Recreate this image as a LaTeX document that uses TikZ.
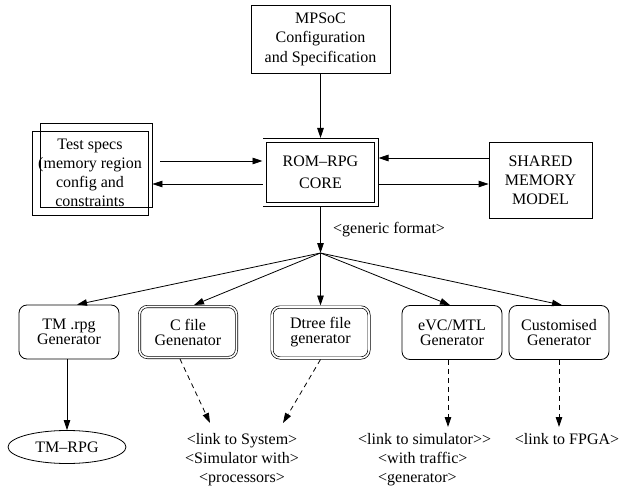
\documentclass[tikz,border=0pt]{standalone}
\usepackage{fontspec}
\setmainfont{Liberation Serif}
\usetikzlibrary{arrows.meta,shapes.geometric,calc}
\begin{document}
\begin{tikzpicture}[x=1pt,y=-1pt,
  every node/.style={inner sep=0pt, align=center, font=\fontsize{16}{19}\selectfont},
  plainbox/.style={draw, line width=0.8pt},
  gen/.style={draw, line width=0.8pt, rounded corners=8pt, minimum width=100pt, minimum height=54pt, font=\fontsize{16}{15}\selectfont},
  gendbl/.style={gen, line width=0.7pt, double, double distance=1.6pt, minimum width=97pt, minimum height=51pt, outer sep=1.5pt},
  linktext/.style={inner ysep=10pt, inner xsep=0pt},
  arr/.style={-{Triangle[length=10pt,width=6.5pt]}, line width=0.8pt},
  darr/.style={arr, dash pattern=on 5pt off 4pt}
]
\useasboundingbox (0,0) rectangle (629,489);

% top
\node[plainbox, minimum width=139pt, minimum height=68pt, font=\fontsize{16}{19.5}\selectfont] (mpsoc) at (320.5,39) {MPSoC\\Configuration\\and Specification};

\node[plainbox, double, double distance=3pt, minimum width=111.4pt, minimum height=64.4pt, outer sep=2.3pt, font=\fontsize{16}{22}\selectfont] (rom) at (320.5,172.5) {ROM--RPG\\CORE};

\node[plainbox, minimum width=112pt, minimum height=84pt] (testb) at (96,165) {};
\node[plainbox, minimum width=116pt, minimum height=84pt] (test) at (90,173) {Test specs\\(memory region\\config and\\constraints};

\node[plainbox, minimum width=103pt, minimum height=76pt] (shared) at (540.5,180) {SHARED\\MEMORY\\MODEL};

\node[anchor=west] (gf) at (333,230) {<generic format>};
\coordinate (fan) at (320.5,253);

% generators
\node[gen] (tm) at (69,332) {TM .rpg\\Generator};
\node[gendbl] (cfile) at (188,332) {C file\\Genenator};
\node[gendbl] (dtree) at (320.5,332.5) {Dtree file\\generator};
\node[gen] (evc) at (452,332.5) {eVC/MTL\\Generator};
\node[gen] (custom) at (559,332.5) {Customised\\Generator};

% outputs
\node[draw, ellipse, line width=0.8pt, minimum width=118pt, minimum height=33pt] (tmrpg) at (67,447) {TM--RPG};
\node[linktext, anchor=north] (sys) at (242,423) {<link to System>\\<Simulator with>\\<processors>};
\node[linktext, inner ysep=6pt, anchor=north west, align=left] (simlink) at (358,427) {<link to simulator>\kern0pt>\\\hspace*{20pt}<with traffic>\\\hspace*{20pt}<generator>};
\node[linktext, inner ysep=6pt, anchor=north] (fpga) at (567,427) {<link to FPGA>};

% connectors
\draw[arr] (mpsoc.south) -- (rom.north);
\coordinate (ts) at ($(testb.east)+(8,-4)$);
\draw[arr] (ts) -- (ts -| rom.west);
\coordinate (rl) at ($(rom.west)+(0,11.5)$);
\draw[arr] (rl) -- (rl -| testb.east);
\coordinate (sw) at ($(shared.west)+(0,-22)$);
\draw[arr] (sw) -- (sw -| rom.east);
\coordinate (re) at ($(rom.east)+(0,11.5)$);
\draw[arr] (re) -- (re -| shared.west);
\draw[arr] (rom.south) -- (fan);

\draw[arr] (fan) -- ([xshift=8pt]tm.north);
\draw[arr] (fan) -- ([xshift=6pt]cfile.north);
\draw[arr] (fan) -- (dtree.north);
\draw[arr] (fan) -- ([xshift=-2pt]evc.north);
\draw[arr] (fan) -- ([xshift=3pt]custom.north);

\draw[arr] (tm.south -| tmrpg.north) -- (tmrpg.north);
\draw[darr] ([xshift=-8pt]cfile.south) -- ([xshift=-32pt]sys.north);
\draw[darr] (dtree.south) -- ([xshift=41pt]sys.north);
\coordinate (es) at ([xshift=-4pt]evc.south);
\draw[darr] (es) -- (es |- simlink.north);
\draw[darr] (custom.south) -- (custom.south |- fpga.north);
\end{tikzpicture}
\end{document}
